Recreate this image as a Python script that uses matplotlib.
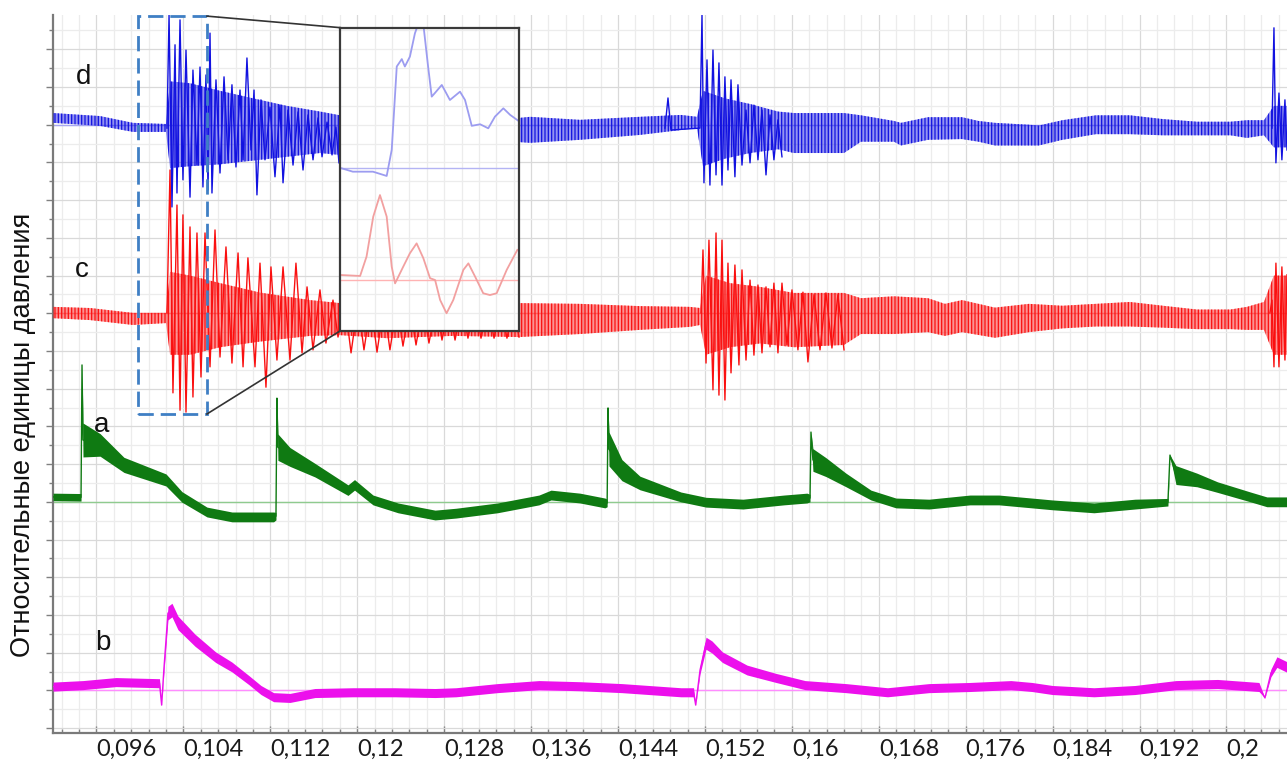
import numpy as np
import matplotlib
matplotlib.use("Agg")
import matplotlib.pyplot as plt
from matplotlib.ticker import FixedLocator, MultipleLocator
from matplotlib.patches import Rectangle

plt.rcParams['font.family'] = ['Lato', 'DejaVu Sans']
plt.rcParams['hatch.linewidth'] = 0.9

# ---------------- axis ticks ----------------
x_major = [0.096, 0.104, 0.112, 0.120, 0.128, 0.136, 0.144, 0.152,
           0.160, 0.168, 0.176, 0.184, 0.192, 0.200]
x_labels = ["0,096", "0,104", "0,112", "0,12", "0,128", "0,136", "0,144",
            "0,152", "0,16", "0,168", "0,176", "0,184", "0,192", "0,2"]
y_label = "Относительные единицы давления"

# zero levels of the four channels
baselines = {"d": 16.0, "c": 11.0, "a": 6.0, "b": 1.0}
trace_names = ["d", "c", "a", "b"]
name_pos_t = [0.09485, 0.09467, 0.09651, 0.09660]
name_pos_y = [17.27, 12.15, 8.04, 2.25]

# ---------------- channel a (green): centre line and noise half-width ----------------
a_t = [0.0920, 0.09458, 0.09467, 0.09476, 0.09633, 0.09853, 0.10240, 0.10387,
       0.10617, 0.10847, 0.11230, 0.11252, 0.11261, 0.11270, 0.11381, 0.11611,
       0.11915, 0.11975, 0.12145, 0.12375, 0.12716, 0.12909, 0.13291, 0.13673,
       0.13783, 0.14050, 0.14280, 0.14300, 0.14308, 0.14317, 0.14436, 0.14602,
       0.14979, 0.15210, 0.15550, 0.15927, 0.16139, 0.16167, 0.16176, 0.16194,
       0.16314, 0.16498, 0.16728, 0.16958, 0.17262, 0.17639, 0.17906, 0.18210,
       0.18398, 0.18780, 0.19158, 0.19461, 0.19480, 0.19535, 0.19728, 0.19918,
       0.20221, 0.20372, 0.20557]
a_mid = [6.13, 6.12, 9.63, 7.64, 7.51, 6.98, 6.58, 6.13,
         5.73, 5.60, 5.60, 5.62, 8.75, 7.45, 7.19, 6.84,
         6.31, 6.45, 6.05, 5.84, 5.65, 5.70, 5.84, 6.05,
         6.18, 6.10, 5.97, 5.97, 8.49, 7.40, 6.84, 6.50,
         6.13, 5.99, 5.94, 6.05, 6.10, 6.10, 7.85, 7.11,
         6.92, 6.58, 6.18, 5.97, 5.94, 6.05, 6.05, 5.97,
         5.92, 5.84, 5.94, 5.99, 7.24, 6.71, 6.58, 6.39,
         6.13, 6.00, 6.00]
a_half = [0.10, 0.10, 0.00, 0.45, 0.30, 0.20, 0.16, 0.14,
          0.13, 0.13, 0.13, 0.10, 0.00, 0.35, 0.25, 0.18,
          0.14, 0.14, 0.13, 0.13, 0.13, 0.13, 0.13, 0.13,
          0.13, 0.13, 0.13, 0.10, 0.00, 0.45, 0.28, 0.18,
          0.13, 0.13, 0.13, 0.13, 0.13, 0.10, 0.00, 0.30,
          0.25, 0.18, 0.13, 0.13, 0.13, 0.13, 0.13, 0.13,
          0.13, 0.13, 0.13, 0.10, 0.00, 0.25, 0.18, 0.14,
          0.13, 0.13, 0.13]

# ---------------- channel b (magenta) ----------------
b_t = [0.0920, 0.09476, 0.09780, 0.10180, 0.10200, 0.10220, 0.10258, 0.10295,
       0.10350, 0.10507, 0.10697, 0.10847, 0.11004, 0.11114, 0.11230, 0.11381,
       0.11611, 0.11961, 0.12347, 0.12716, 0.12909, 0.13291, 0.13673, 0.14050,
       0.14436, 0.14979, 0.15095, 0.15115, 0.15155, 0.15210, 0.15265, 0.15361,
       0.15587, 0.15854, 0.16121, 0.16498, 0.16880, 0.17262, 0.17639, 0.18016,
       0.18210, 0.18398, 0.18780, 0.19158, 0.19535, 0.19918, 0.20299, 0.20354,
       0.20409, 0.20464, 0.20557]
b_mid = [1.10, 1.14, 1.22, 1.19, 0.61, 1.54, 3.05, 3.13,
         2.79, 2.33, 1.88, 1.62, 1.27, 1.01, 0.82, 0.80,
         0.93, 0.95, 0.95, 0.93, 0.95, 1.06, 1.14, 1.11,
         1.06, 0.95, 0.95, 0.61, 1.54, 2.25, 2.15, 1.88,
         1.54, 1.33, 1.14, 1.06, 0.95, 1.06, 1.09, 1.14,
         1.09, 1.01, 0.95, 1.01, 1.14, 1.17, 1.09, 0.80,
         1.46, 1.75, 1.62]
b_half = [0.12, 0.12, 0.12, 0.12, 0.00, 0.10, 0.18, 0.18,
          0.18, 0.16, 0.14, 0.13, 0.12, 0.12, 0.12, 0.12,
          0.12, 0.12, 0.12, 0.12, 0.12, 0.12, 0.12, 0.12,
          0.12, 0.12, 0.12, 0.00, 0.10, 0.16, 0.16, 0.14,
          0.13, 0.12, 0.12, 0.12, 0.12, 0.12, 0.12, 0.12,
          0.12, 0.12, 0.12, 0.12, 0.12, 0.12, 0.12, 0.00,
          0.10, 0.14, 0.14]

# ---------------- channel c (red): dense core band ----------------
c_t = [0.0920, 0.09541, 0.09936, 0.10240, 0.10277, 0.10461, 0.10737, 0.11105,
       0.11565, 0.11841, 0.12274, 0.12881, 0.13489, 0.14050, 0.14602, 0.15062,
       0.15155, 0.15210, 0.15430, 0.15707, 0.16019, 0.16480, 0.16636, 0.16940,
       0.17253, 0.17409, 0.17566, 0.17869, 0.18182, 0.18490, 0.18798, 0.19111,
       0.19415, 0.19728, 0.20037, 0.20188, 0.20345, 0.20436, 0.20557]
c_lo = [10.87, 10.82, 10.69, 10.74, 9.90, 9.90, 10.10, 10.25,
        10.40, 10.42, 10.34, 10.40, 10.37, 10.45, 10.56, 10.64,
        10.69, 9.90, 10.10, 10.20, 10.10, 10.16, 10.45, 10.45,
        10.50, 10.40, 10.50, 10.35, 10.50, 10.60, 10.65, 10.65,
        10.62, 10.58, 10.58, 10.56, 10.56, 9.90, 9.90]
c_hi = [11.17, 11.14, 11.01, 11.01, 12.10, 12.00, 11.80, 11.55,
        11.35, 11.27, 11.27, 11.22, 11.27, 11.25, 11.19, 11.17,
        11.14, 12.00, 11.80, 11.70, 11.54, 11.54, 11.40, 11.45,
        11.40, 11.25, 11.35, 11.15, 11.25, 11.20, 11.25, 11.30,
        11.20, 11.10, 11.10, 11.17, 11.30, 12.00, 12.00]

# oscillation extremes of channel c
c_burst1_t = [0.10249, 0.10277, 0.10304, 0.10341, 0.10369, 0.10396, 0.10424, 0.10461,
              0.10488, 0.10525, 0.10562, 0.10599, 0.10645, 0.10691, 0.10737, 0.10792,
              0.10847, 0.10903, 0.10949, 0.10994, 0.11059, 0.11105, 0.11160, 0.11206,
              0.11261, 0.11317, 0.11381, 0.11436, 0.11492, 0.11538, 0.11593, 0.11657,
              0.11712, 0.11777, 0.11823, 0.11887, 0.11943, 0.12007, 0.12062, 0.12127,
              0.12182, 0.12246, 0.12301, 0.12366, 0.12421, 0.12485, 0.12541, 0.12605,
              0.12660, 0.12725, 0.12780, 0.12844, 0.12900, 0.12964, 0.13019, 0.13084,
              0.13139, 0.13203, 0.13259, 0.13323, 0.13378, 0.13443, 0.13489]
c_burst1_v = [11.01, 14.80, 8.89, 13.87, 8.43, 13.61, 8.38, 13.29,
              8.78, 13.13, 9.31, 13.13, 9.58, 13.21, 9.84, 12.76,
              9.68, 12.60, 9.58, 12.47, 9.58, 12.33, 9.04, 12.23,
              9.76, 12.23, 9.76, 12.33, 9.95, 11.70, 10.03, 11.62,
              10.21, 11.35, 10.37, 11.27, 9.95, 11.27, 10.03, 11.27,
              9.97, 11.22, 10.03, 11.22, 10.13, 11.22, 10.16, 11.22,
              10.21, 11.22, 10.29, 11.22, 10.29, 11.22, 10.34, 11.22,
              10.34, 11.22, 10.34, 11.22, 10.34, 11.22, 10.37]
c_burst2_t = [0.15164, 0.15182, 0.15210, 0.15237, 0.15274, 0.15302, 0.15329, 0.15357,
              0.15384, 0.15412, 0.15440, 0.15476, 0.15513, 0.15541, 0.15578, 0.15615,
              0.15651, 0.15688, 0.15725, 0.15762, 0.15799, 0.15835, 0.15872, 0.15909,
              0.15955, 0.16001, 0.16056, 0.16102, 0.16148, 0.16204, 0.16259, 0.16314,
              0.16369, 0.16424, 0.16480]
c_burst2_v = [11.01, 12.68, 9.68, 12.94, 8.97, 13.13, 8.83, 12.94,
              8.70, 12.33, 9.42, 12.28, 9.63, 12.15, 9.76, 11.88,
              9.89, 11.75, 9.95, 11.70, 10.11, 11.80, 9.95, 11.80,
              10.16, 11.62, 10.03, 11.56, 9.71, 11.49, 10.03, 11.54,
              10.08, 11.49, 10.03]
c_burst3_t = [0.20400, 0.20419, 0.20437, 0.20455, 0.20483, 0.20510, 0.20538, 0.20557]
c_burst3_v = [11.01, 11.35, 9.58, 12.33, 9.58, 12.23, 9.76, 12.02]

# ---------------- channel d (blue): dense core band ----------------
d_t = [0.0920, 0.09633, 0.09936, 0.10240, 0.10277, 0.10461, 0.10737, 0.11041,
       0.11353, 0.11657, 0.11841, 0.12578, 0.13489, 0.13590, 0.14050, 0.14602,
       0.14979, 0.15127, 0.15182, 0.15384, 0.15615, 0.15872, 0.16019, 0.16480,
       0.16636, 0.16940, 0.17004, 0.17253, 0.17566, 0.17718, 0.17869, 0.18182,
       0.18274, 0.18490, 0.18798, 0.19111, 0.19415, 0.19728, 0.20037, 0.20188,
       0.20345, 0.20436, 0.20557]
d_lo = [16.05, 15.97, 15.81, 15.81, 14.85, 14.90, 14.95, 15.05,
        15.15, 15.25, 15.20, 15.54, 15.54, 15.52, 15.60, 15.73,
        15.86, 15.91, 14.90, 15.10, 15.25, 15.35, 15.25, 15.25,
        15.55, 15.55, 15.45, 15.60, 15.62, 15.55, 15.45, 15.45,
        15.45, 15.60, 15.75, 15.75, 15.72, 15.72, 15.72, 15.65,
        15.72, 15.40, 15.40]
d_hi = [16.31, 16.23, 16.05, 16.02, 17.15, 17.10, 16.90, 16.70,
        16.50, 16.35, 16.25, 16.18, 16.18, 16.21, 16.13, 16.21,
        16.26, 16.21, 16.90, 16.70, 16.55, 16.35, 16.31, 16.31,
        16.25, 16.10, 16.05, 16.20, 16.20, 16.10, 16.05, 16.00,
        15.98, 16.12, 16.25, 16.25, 16.15, 16.08, 16.08, 16.12,
        16.12, 16.50, 16.50]

# oscillation extremes of channel d
d_burst1_t = [0.10249, 0.10268, 0.10295, 0.10323, 0.10341, 0.10369, 0.10396, 0.10424,
              0.10461, 0.10488, 0.10525, 0.10553, 0.10580, 0.10608, 0.10627, 0.10645,
              0.10663, 0.10700, 0.10737, 0.10774, 0.10811, 0.10847, 0.10884, 0.10921,
              0.10949, 0.10985, 0.11022, 0.11050, 0.11077, 0.11114, 0.11151, 0.11197,
              0.11243, 0.11289, 0.11317, 0.11363, 0.11409, 0.11455, 0.11501, 0.11547,
              0.11593, 0.11639, 0.11676, 0.11722, 0.11768, 0.11804, 0.11832]
d_burst1_v = [15.91, 18.91, 13.82, 18.12, 14.19, 18.78, 14.54, 17.98,
              14.08, 17.45, 14.93, 17.53, 14.35, 17.32, 14.27, 18.43,
              14.19, 17.19, 14.72, 17.27, 15.07, 17.06, 14.88, 16.92,
              15.07, 17.77, 15.33, 16.92, 14.14, 16.66, 15.07, 16.47,
              14.62, 16.52, 14.46, 16.39, 14.93, 16.34, 14.80, 16.26,
              15.07, 16.18, 15.15, 16.07, 15.20, 15.94, 14.99]
d_burst2_t = [0.14832, 0.14860, 0.14887, 0.15154, 0.15173, 0.15191, 0.15219, 0.15246,
              0.15274, 0.15302, 0.15329, 0.15357, 0.15384, 0.15412, 0.15440, 0.15476,
              0.15504, 0.15541, 0.15578, 0.15615, 0.15651, 0.15688, 0.15725, 0.15762,
              0.15799, 0.15835, 0.15872, 0.15909]
d_burst2_v = [15.91, 16.71, 15.86, 15.91, 18.91, 14.46, 17.72, 14.40,
              17.98, 14.67, 17.64, 14.40, 17.27, 14.80, 17.19, 14.62,
              17.06, 14.93, 16.39, 14.99, 16.52, 15.07, 16.39, 14.67,
              16.26, 15.07, 16.13, 15.15]
d_burst3_t = [0.20419, 0.20437, 0.20455, 0.20483, 0.20510, 0.20538, 0.20557]
d_burst3_v = [15.91, 18.57, 14.99, 16.84, 15.07, 16.66, 15.33]

# ---------------- magnified view of the first front ----------------
zoom_t = [0.09982, 0.10617]          # time window shown in the inset
zoom_y = [8.33, 18.88]
inset_xlim = [0.0998, 0.1062]
inset_ylim = [8.73, 22.23]
ins_d_t = [0.09986, 0.10026, 0.10098, 0.10147, 0.10165, 0.10183, 0.10201, 0.10212,
           0.10230, 0.10248, 0.10266, 0.10276, 0.10295, 0.10308, 0.10320, 0.10344,
           0.10373, 0.10409, 0.10427, 0.10451, 0.10481, 0.10510, 0.10534, 0.10564,
           0.10588, 0.10617]
ins_d = [15.97, 15.82, 15.82, 15.63, 16.79, 20.50, 20.83, 20.50,
         20.94, 21.98, 22.60, 22.60, 20.50, 19.16, 19.33, 19.68,
         19.01, 19.38, 19.01, 17.86, 17.93, 17.75, 18.27, 18.64,
         18.35, 18.09]
ins_c_t = [0.09986, 0.10052, 0.10075, 0.10099, 0.10123, 0.10147, 0.10165, 0.10177,
           0.10206, 0.10230, 0.10254, 0.10278, 0.10302, 0.10320, 0.10338, 0.10361,
           0.10385, 0.10421, 0.10439, 0.10463, 0.10492, 0.10516, 0.10540, 0.10576,
           0.10614]
ins_c = [11.22, 11.18, 12.04, 13.82, 14.78, 13.82, 11.59, 10.85,
         11.59, 12.19, 12.63, 11.97, 11.08, 11.00, 10.11, 9.52,
         10.11, 11.45, 11.74, 11.15, 10.41, 10.33, 10.41, 11.45,
         12.34]

# ---------------- styling ----------------
GREEN, MAGENTA, RED, BLUE = "#0f7a12", "#ec10ec", "#fa1010", "#1212e0"
BASE_COL = {"d": "#a7a7f2", "c": "#ffa3a3", "a": "#8fcb8f", "b": "#ff8cff"}
GRID_MAJ, GRID_MIN = "#d9d9d9", "#ececec"

fig = plt.figure(figsize=(12.87, 7.60), dpi=100)
ax = fig.add_axes([53 / 1287, 27 / 760, 1234 / 1287, 718 / 760])
ax.set_xlim(0.0920, 0.20557)
ax.set_ylim(-0.13, 18.91)

ax.xaxis.set_major_locator(FixedLocator(x_major))
ax.xaxis.set_minor_locator(MultipleLocator(0.0016))
ax.set_xticklabels(x_labels)
for lbl in ax.get_xticklabels():
    lbl.set_horizontalalignment("left")
ax.yaxis.set_major_locator(MultipleLocator(1))
ax.yaxis.set_minor_locator(MultipleLocator(0.5))
ax.tick_params(axis="x", which="major", direction="in", length=5, width=1,
               color="#808080", labelsize=17, pad=4, labelcolor="#1a1a1a")
ax.tick_params(axis="x", which="minor", direction="in", length=3, width=1,
               color="#808080")
ax.tick_params(axis="y", which="major", direction="out", length=5, width=1,
               color="#808080", labelleft=False)
ax.tick_params(axis="y", which="minor", direction="out", length=3, width=1,
               color="#808080")
ax.grid(which="major", color=GRID_MAJ, lw=0.9)
ax.grid(which="minor", color=GRID_MIN, lw=0.9)
ax.set_axisbelow(True)
for side in ("top", "right"):
    ax.spines[side].set_visible(False)
for side in ("left", "bottom"):
    ax.spines[side].set_color("#7a7a7a")
    ax.spines[side].set_linewidth(1.6)

# zero levels
for name in trace_names:
    ax.axhline(baselines[name], color=BASE_COL[name], lw=1.0, zorder=2)

# channels a and b: noisy bands around a centre line
for t, mid, half, col in ((a_t, a_mid, a_half, GREEN), (b_t, b_mid, b_half, MAGENTA)):
    t = np.asarray(t); mid = np.asarray(mid); half = np.asarray(half)
    ax.fill_between(t, mid - half, mid + half, color=col, lw=0, zorder=3)
    ax.plot(t, mid, color=col, lw=1.0, zorder=3)

# channels c and d: dense core drawn as a vertically hatched band plus oscillation extremes
for t, lo, hi, col in ((c_t, c_lo, c_hi, RED), (d_t, d_lo, d_hi, BLUE)):
    ax.fill_between(t, lo, hi, facecolor=col, alpha=0.45, lw=0, zorder=3)
    ax.fill_between(t, lo, hi, facecolor="none", edgecolor=col, hatch="|||||",
                    lw=0, zorder=3.1)
for t, v in ((c_burst1_t, c_burst1_v), (c_burst2_t, c_burst2_v), (c_burst3_t, c_burst3_v)):
    ax.plot(t, v, color=RED, lw=1.0, zorder=3.2)
for t, v in ((d_burst1_t, d_burst1_v), (d_burst2_t, d_burst2_v), (d_burst3_t, d_burst3_v)):
    ax.plot(t, v, color=BLUE, lw=1.0, zorder=3.2)

# channel names
for name, tx, ty in zip(trace_names, name_pos_t, name_pos_y):
    ax.text(tx, ty, name, fontsize=20, ha="center", va="center",
            family=["Liberation Sans", "DejaVu Sans"], color="#111111", zorder=6)

# selection window
ax.add_patch(Rectangle((zoom_t[0], zoom_y[0]), zoom_t[1] - zoom_t[0], zoom_y[1] - zoom_y[0],
                       fill=False, edgecolor="#3f7fc4", lw=2.0,
                       linestyle=(0, (5.5, 2.5)), zorder=5))

# inset box in main-axis coordinates
box_t = [0.11841, 0.13489]
box_y = [10.53, 18.575]
ax.plot([zoom_t[1], box_t[0]], [zoom_y[1], box_y[1]], color="#333333", lw=1.2, zorder=5)
ax.plot([zoom_t[1], box_t[0]], [zoom_y[0], box_y[0]], color="#333333", lw=1.2, zorder=5)

axin = ax.inset_axes([box_t[0], box_y[0], box_t[1] - box_t[0], box_y[1] - box_y[0]],
                     transform=ax.transData, zorder=5)
axin.set_facecolor("white")
axin.set_xticks([]); axin.set_yticks([])
for sp in axin.spines.values():
    sp.set_color("#3a3a3a"); sp.set_linewidth(1.6)
# grid of the main chart continued inside the inset
gx = [g for g in np.arange(0.0928, 0.2056, 0.0016) if box_t[0] < g < box_t[1]]
gy = [g for g in np.arange(0.0, 19.0, 0.5) if box_y[0] < g < box_y[1]]
axin.vlines(gx, box_y[0], box_y[1], colors=GRID_MIN, lw=0.9, transform=ax.transData)
axin.hlines(gy, box_t[0], box_t[1], colors=GRID_MIN, lw=0.9, transform=ax.transData)
axin.axhline(baselines["d"], color="#b4b4f4", lw=1.0)
axin.axhline(baselines["c"], color="#ffb3b3", lw=1.0)
axin.plot(ins_d_t, ins_d, color="#9c9cf0", lw=1.3)
axin.plot(ins_c_t, ins_c, color="#f2a0a0", lw=1.3)
axin.set_xlim(*inset_xlim)
axin.set_ylim(*inset_ylim)

fig.text(23 / 1287, 0.4276, y_label, rotation=90, ha="center", va="center",
         fontsize=19.5, family=["Liberation Sans", "DejaVu Sans"], color="#111111")

fig.savefig("out.png", dpi=100)
